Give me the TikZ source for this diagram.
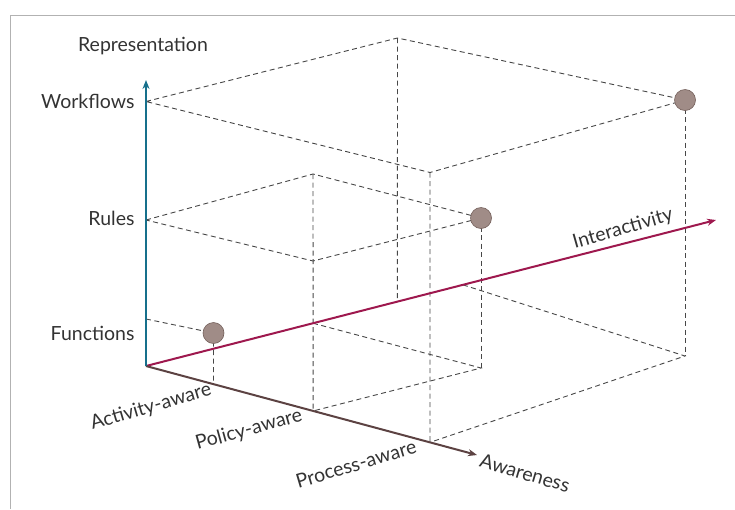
\documentclass[tikz,border=0pt]{standalone}
\usepackage{fontspec}
\setmainfont{Lato}
\usetikzlibrary{calc,arrows.meta}

\definecolor{reprblue}{RGB}{22,112,140}
\definecolor{interred}{RGB}{158,24,78}
\definecolor{awarebrown}{RGB}{92,66,66}
\definecolor{dotfill}{RGB}{160,140,135}
\definecolor{dotline}{RGB}{115,95,90}

\tikzset{
  guide/.style={draw=black!72,line width=0.9pt,dash pattern=on 5pt off 3.5pt},
  axis/.style={line width=2pt,-{Stealth[length=9pt,width=7pt]}},
  level/.style={anchor=east,text=black!80},
  dot/.style={circle,draw=dotline,fill=dotfill,line width=0.6pt,minimum size=21pt,inner sep=0pt}
}

\begin{document}
\begin{tikzpicture}[x=1pt,y=-1pt,font=\fontsize{19.5}{22}\selectfont]
	\useasboundingbox (0,0) rectangle (735,509);
	\draw[black!30,line width=0.8pt] (735,15) -- (10,15) -- (10,509);

	% axes end points
	\coordinate (O) at (146,366);
	\coordinate (R) at (146,80);
	\coordinate (I) at (716,220);
	\coordinate (A) at (477,455);

	% ticks on the awareness axis
	\coordinate (act) at ($(O)!0.204!(A)$);
	\coordinate (pol) at ($(O)!0.505!(A)$);
	\coordinate (proc) at ($(O)!0.858!(A)$);

	% functions
	\coordinate (f0) at (146,319);
	\coordinate (f1) at (213.5,333);
	\draw[guide] (f0) -- (f1);
	\draw[guide] (f1) -- (act);

	% rules
	\coordinate (r0) at (146,220);
	\coordinate (r1) at (313,174);
	\coordinate (r2) at (313,261);
	\coordinate (r3) at (481,218);
	\coordinate (rb) at ($(O)!0.293!(I)$);
	\coordinate (rg) at (481,368);
	\draw[guide] (r0) -- (r1) -- (r3) -- (r2) -- (r0);
	\draw[guide] (r1) -- (pol);
	\draw[guide] (r3) -- (rg);
	\draw[guide] (rb) -- (rg) -- (pol);

	% workflows
	\coordinate (w0) at (146,101.5);
	\coordinate (w1) at (397.5,38);
	\coordinate (w2) at (430,172.5);
	\coordinate (w3) at (685,100);
	\coordinate (wb) at ($(O)!0.441!(I)$);
	\coordinate (wc) at ($(O)!0.556!(I)$);
	\coordinate (wg) at (685,356);
	\draw[guide] (w0) -- (w1) -- (w3) -- (w2) -- (w0);
	\draw[guide] (w1) -- (wb);
	\draw[guide] (w2) -- (proc);
	\draw[guide] (w3) -- (wg);
	\draw[guide] (wc) -- (wg) -- (proc);

	% axes
	\draw[axis,interred] (O) -- (I);
	\draw[axis,awarebrown] (O) -- (A);
	\draw[axis,reprblue,line width=2.6pt] (O) -- (R);

	\node[dot] (fdot) at (f1) {};
	\node[dot] (rdot) at (r3) {};
	\node[dot] (wdot) at (w3) {};

	% labels
	\node[text=black!80] (repr) at (143,46.5) {Representation};
	\node[level] (wf) at (138,101.5) {Workflows};
	\node[level] (ru) at (138,218) {Rules};
	\node[level] (fu) at (138,333) {Functions};
	\node[text=black!80,rotate=16.5] (acta) at (151,407) {Activity-aware};
	\node[text=black!80,rotate=15.5] (pola) at (249,430) {Policy-aware};
	\node[text=black!80,rotate=16.5] (proca) at (356,464) {Process-aware};
	\node[text=black!80,rotate=-16.5] (awa) at (525,473) {Awareness};
	\node[text=black!80,rotate=16] (inter) at (623,229) {Interactivity};

\end{tikzpicture}
\end{document}
